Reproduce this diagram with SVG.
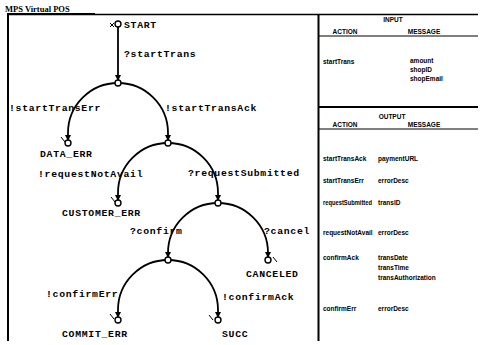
<svg xmlns="http://www.w3.org/2000/svg" width="480" height="345" viewBox="0 0 480 345">
<style>
.bg{fill:#fff}
.frame{stroke:#000;fill:none}
.tl{font-family:"Liberation Mono",monospace;font-weight:bold;font-size:9.8px;letter-spacing:0.7px;fill:#000}
.tb{font-family:"Liberation Sans",Arial,sans-serif;font-weight:bold;font-size:6.5px;fill:#000}
.title{font-family:"Liberation Serif",serif;font-weight:bold;font-size:8.5px;fill:#000}
.st{fill:#fff;stroke:#000;stroke-width:1.4}
.cn{fill:none;stroke:#000;stroke-width:1.8}
.mk{stroke:#000;stroke-width:1}
</style>
<defs>
<marker id="ar" markerWidth="6" markerHeight="6" refX="5" refY="3" orient="auto" markerUnits="userSpaceOnUse">
<path d="M0,0 L6,3 L0,6 z" fill="#000"/>
</marker>
</defs>
<rect class="bg" x="0" y="0" width="480" height="345"/>
<g id="frame">
<text class="title" x="5" y="12">MPS Virtual POS</text>
<line class="frame" x1="7" y1="14.5" x2="478" y2="14.5" stroke-width="1.5"/>
<line class="frame" x1="7" y1="13.8" x2="95" y2="13.8" stroke-width="1.5"/>
<line class="frame" x1="8" y1="14" x2="8" y2="341" stroke-width="2"/>
<line class="frame" x1="318.5" y1="14" x2="318.5" y2="341" stroke-width="2"/>
</g>
<g id="connectors">
<path class="cn" d="M118,27 L118,80" marker-end="url(#ar)"/>
<path class="cn" d="M118,83 A50,50 0 0 0 68,133 L68,140" marker-end="url(#ar)"/>
<path class="cn" d="M118,83 A50,50 0 0 1 168,133 L168,140" marker-end="url(#ar)"/>
<path class="cn" d="M168,143 A50,50 0 0 0 118,193 L118,200" marker-end="url(#ar)"/>
<path class="cn" d="M168,143 A50,50 0 0 1 218,193 L218,200" marker-end="url(#ar)"/>
<path class="cn" d="M218,203 A50,50 0 0 0 168,253 L168,257" marker-end="url(#ar)"/>
<path class="cn" d="M218,203 A50,50 0 0 1 268,253 L268,257" marker-end="url(#ar)"/>
<path class="cn" d="M168,260 A50,50 0 0 0 118,310 L118,317" marker-end="url(#ar)"/>
<path class="cn" d="M168,260 A50,50 0 0 1 218,310 L218,317" marker-end="url(#ar)"/>
<text class="tl" x="124" y="57">?startTrans</text>
<text class="tl" x="9" y="111">!startTransErr</text>
<text class="tl" x="165" y="111">!startTransAck</text>
<text class="tl" x="38" y="177">!requestNotAvail</text>
<text class="tl" x="188" y="176">?requestSubmitted</text>
<text class="tl" x="130" y="234">?confirm</text>
<text class="tl" x="264" y="234">?cancel</text>
<text class="tl" x="46" y="297">!confirmErr</text>
<text class="tl" x="222" y="300">!confirmAck</text>
</g>
<g id="START">
<line class="mk" x1="110" y1="23" x2="114" y2="27"/>
<line class="mk" x1="114" y1="23" x2="110" y2="27"/>
<circle class="st" cx="118" cy="24" r="3"/>
<text class="tl" x="124" y="28">START</text>
</g>
<g id="N1"><circle class="st" cx="118" cy="83" r="3"/></g>
<g id="DATA_ERR">
<line class="mk" x1="61" y1="137" x2="65" y2="142"/>
<circle class="st" cx="68" cy="143" r="3"/>
<text class="tl" x="40" y="157">DATA_ERR</text>
</g>
<g id="N2"><circle class="st" cx="168" cy="143" r="3"/></g>
<g id="CUSTOMER_ERR">
<line class="mk" x1="111" y1="197" x2="115" y2="202"/>
<circle class="st" cx="118" cy="203" r="3"/>
<text class="tl" x="62" y="216">CUSTOMER_ERR</text>
</g>
<g id="N3"><circle class="st" cx="218" cy="203" r="3"/></g>
<g id="CANCELED">
<circle class="st" cx="268" cy="260" r="3"/>
<line class="mk" x1="273" y1="257" x2="277" y2="262"/>
<text class="tl" x="246" y="277">CANCELED</text>
</g>
<g id="N4"><circle class="st" cx="168" cy="260" r="3"/></g>
<g id="COMMIT_ERR">
<line class="mk" x1="110" y1="314" x2="114" y2="319"/>
<circle class="st" cx="118" cy="320" r="3"/>
<text class="tl" x="62" y="337">COMMIT_ERR</text>
</g>
<g id="SUCC">
<line class="mk" x1="209" y1="315" x2="213" y2="320"/>
<circle class="st" cx="218" cy="320" r="3"/>
<text class="tl" x="222" y="337">SUCC</text>
</g>
<g id="input-table">
<text class="tb" x="393" y="22" text-anchor="middle">INPUT</text>
<text class="tb" x="345" y="34" text-anchor="middle">ACTION</text>
<text class="tb" x="424" y="34" text-anchor="middle">MESSAGE</text>
<line class="frame" x1="318" y1="36" x2="478" y2="36" stroke-width="1.2"/>
<text class="tb" x="323" y="64">startTrans</text>
<text class="tb" x="410" y="63">amount</text>
<text class="tb" x="410" y="72">shopID</text>
<text class="tb" x="410" y="81">shopEmail</text>
<line class="frame" x1="318" y1="107" x2="478" y2="107" stroke-width="2"/>
</g>
<g id="output-table">
<text class="tb" x="392" y="119" text-anchor="middle">OUTPUT</text>
<text class="tb" x="345" y="127" text-anchor="middle">ACTION</text>
<text class="tb" x="424" y="127" text-anchor="middle">MESSAGE</text>
<line class="frame" x1="318" y1="129" x2="478" y2="129" stroke-width="1.2"/>
<text class="tb" x="323" y="161">startTransAck</text>
<text class="tb" x="378" y="161">paymentURL</text>
<text class="tb" x="323" y="183">startTransErr</text>
<text class="tb" x="378" y="183">errorDesc</text>
<text class="tb" x="323" y="205" textLength="49" lengthAdjust="spacingAndGlyphs">requestSubmitted</text>
<text class="tb" x="378" y="205">transID</text>
<text class="tb" x="323" y="235">requestNotAvail</text>
<text class="tb" x="378" y="235">errorDesc</text>
<text class="tb" x="323" y="260">confirmAck</text>
<text class="tb" x="378" y="260">transDate</text>
<text class="tb" x="378" y="270">transTime</text>
<text class="tb" x="378" y="280">transAuthorization</text>
<text class="tb" x="323" y="311">confirmErr</text>
<text class="tb" x="378" y="311">errorDesc</text>
</g>
</svg>
